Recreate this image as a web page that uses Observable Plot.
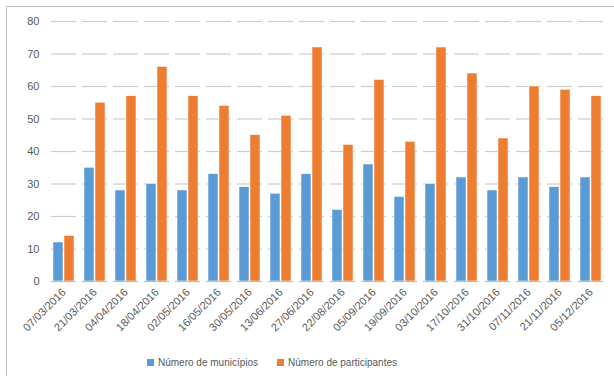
<!DOCTYPE html>
<html><head><meta charset="utf-8">
<script src="https://cdn.jsdelivr.net/npm/d3@7"></script>
<script src="https://cdn.jsdelivr.net/npm/@observablehq/plot@0.6"></script>
<style>
body{margin:0;background:#fff;font-family:"Liberation Sans",Arial,sans-serif;}
#frame{position:absolute;left:6px;top:6px;width:620px;height:380px;border:1px solid #bfbfbf;box-sizing:border-box;}
#chart{position:absolute;left:0;top:0;}
#legend{position:absolute;left:147px;top:357px;white-space:nowrap;font-size:10px;color:#595959;}
#legend span.sw{display:inline-block;width:7px;height:7px;margin-right:4px;vertical-align:0px;}
#legend span.item{margin-right:19px;}
</style></head>
<body>
<div id="frame"></div>
<div id="chart"></div>
<div id="legend"></div>
<script>
const dates = ["07/03/2016","21/03/2016","04/04/2016","18/04/2016","02/05/2016","16/05/2016","30/05/2016","13/06/2016","27/06/2016","22/08/2016","05/09/2016","19/09/2016","03/10/2016","17/10/2016","31/10/2016","07/11/2016","21/11/2016","05/12/2016"];
const municipios = [12,35,28,30,28,33,29,27,33,22,36,26,30,32,28,32,29,32];
const participantes = [14,55,57,66,57,54,45,51,72,42,62,43,72,64,44,60,59,57];
const seriesNames = ["Número de municípios","Número de participantes"];
const colors = ["#5B9BD5","#ED7D31"];
const yTicks = [0,10,20,30,40,50,60,70,80];

const data = [];
dates.forEach((d,i)=>{
  data.push({date:d, series:seriesNames[0], value:municipios[i]});
  data.push({date:d, series:seriesNames[1], value:participantes[i]});
});

const chart = Plot.plot({
  width:614, height:350,
  marginLeft:46, marginRight:7, marginTop:21, marginBottom:69,
  style:{fontFamily:"Liberation Sans, Arial, sans-serif", fontSize:"11px", color:"#595959", background:"transparent"},
  fx:{domain:dates, padding:0.2, label:null, tickRotate:-45, tickSize:0, tickPadding:9},
  x:{domain:seriesNames, padding:0.1, axis:null},
  y:{domain:[0,80], ticks:yTicks, label:null, tickSize:0, tickPadding:12},
  color:{domain:seriesNames, range:colors},
  marks:[
    Plot.gridY(yTicks.filter(t=>t>0), {stroke:"#cccccc", strokeOpacity:1, strokeWidth:1.2}),
    Plot.barY(data, {fx:"date", x:"series", y:"value", fill:"series", stroke:"white", strokeWidth:0.5}),
    Plot.ruleY([0], {stroke:"#bfbfbf", strokeWidth:1.2})
  ]
});
document.getElementById("chart").appendChild(chart);

const lg = document.getElementById("legend");
seriesNames.forEach((s,i)=>{
  const it = document.createElement("span"); it.className="item";
  const sw = document.createElement("span"); sw.className="sw"; sw.style.background=colors[i];
  it.appendChild(sw); it.appendChild(document.createTextNode(s));
  lg.appendChild(it);
});
</script>
</body></html>
